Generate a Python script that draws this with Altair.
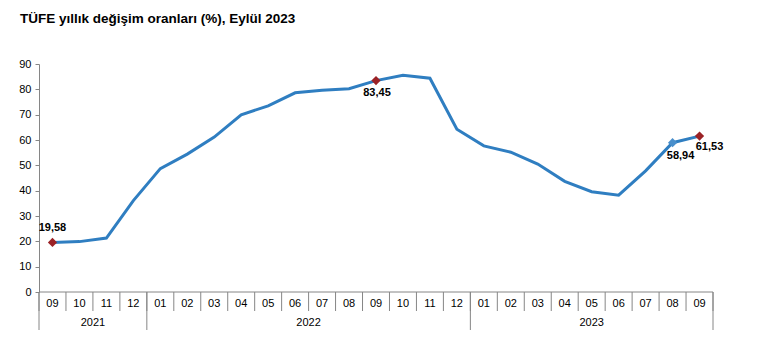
import altair as alt
import pandas as pd

months = ["09", "10", "11", "12",
          "01", "02", "03", "04", "05", "06", "07", "08", "09", "10", "11", "12",
          "01", "02", "03", "04", "05", "06", "07", "08", "09"]
years = ["2021"] * 4 + ["2022"] * 12 + ["2023"] * 9
values = [19.58, 19.89, 21.31, 36.08,
          48.69, 54.44, 61.14, 69.97, 73.50, 78.62, 79.60, 80.21, 83.45, 85.51, 84.39, 64.27,
          57.68, 55.18, 50.51, 43.68, 39.59, 38.21, 47.83, 58.94, 61.53]
y_ticks = [0, 10, 20, 30, 40, 50, 60, 70, 80, 90]
red_points = [0, 12, 24]
blue_points = [23]
label_text = {0: "19,58", 12: "83,45", 23: "58,94", 24: "61,53"}

n = len(months)
W, H = 674, 228
FONT = "Liberation Sans"

df = pd.DataFrame({
    "pos": [i + 0.5 for i in range(n)],
    "value": values,
    "month": months,
    "year": years,
    "idx": list(range(n)),
})
df["label"] = df["idx"].map(label_text).fillna("")

bounds = pd.DataFrame({"b": list(range(n + 1))})
year_bounds = [0] + [i for i in range(1, n) if years[i] != years[i - 1]] + [n]
ybounds = pd.DataFrame({"b": year_bounds})
ylab = pd.DataFrame({
    "year": [years[year_bounds[k]] for k in range(len(year_bounds) - 1)],
    "pos": [(year_bounds[k] + year_bounds[k + 1]) / 2 for k in range(len(year_bounds) - 1)],
})

xs = alt.Scale(domain=[0, n], nice=False, zero=False)
ys = alt.Scale(domain=[0, 90], nice=False)
yaxis = alt.Axis(values=y_ticks, title=None, grid=False,
                 domainColor="#868686", tickColor="#868686", tickSize=4,
                 labelFont=FONT, labelFontSize=11, labelColor="#000000",
                 labelPadding=4, labelOverlap=False)
X = alt.X("pos:Q", scale=xs, axis=None)
Y = alt.Y("value:Q", scale=ys, axis=yaxis)

base = alt.Chart(df)

line = base.mark_line(color="#2F7EC1", strokeWidth=3).encode(x=X, y=Y)

red = base.transform_filter(alt.FieldOneOfPredicate(field="idx", oneOf=red_points)).mark_point(
    shape="diamond", filled=True, size=85, color="#9B2226", opacity=1).encode(x=X, y=Y)
blue = base.transform_filter(alt.FieldOneOfPredicate(field="idx", oneOf=blue_points)).mark_point(
    shape="diamond", filled=True, size=85, color="#4A8FCB", opacity=1).encode(x=X, y=Y)

def lab(i, dx, dy):
    return base.transform_filter(alt.datum.idx == i).mark_text(
        font=FONT, fontSize=11, fontWeight="bold", color="#000000", dx=dx, dy=dy
    ).encode(x=X, y=Y, text="label:N")

labels = lab(0, 0, -14) + lab(12, 1, 12) + lab(23, 8, 13) + lab(24, 10, 11)

xaxis_line = alt.Chart(pd.DataFrame({"a": [0], "b": [n], "value": [0]})).mark_rule(
    color="#868686", strokeWidth=1).encode(
    x=alt.X("a:Q", scale=xs, axis=None), x2="b:Q", y=Y)

seps = alt.Chart(bounds).mark_rule(color="#868686", strokeWidth=1).encode(
    x=alt.X("b:Q", scale=xs, axis=None), y=alt.value(H), y2=alt.value(H + 19))
yseps = alt.Chart(ybounds).mark_rule(color="#868686", strokeWidth=1).encode(
    x=alt.X("b:Q", scale=xs, axis=None), y=alt.value(H), y2=alt.value(H + 38))

mtext = base.mark_text(font=FONT, fontSize=11, color="#000000", baseline="middle").encode(
    x=X, y=alt.value(H + 12), text="month:N")
ytext = alt.Chart(ylab).mark_text(font=FONT, fontSize=11, color="#000000", baseline="middle").encode(
    x=alt.X("pos:Q", scale=xs, axis=None), y=alt.value(H + 31), text="year:N")

chart = alt.layer(
    xaxis_line, seps, yseps, mtext, ytext, line, red, blue, labels
).properties(
    width=W, height=H,
    title=alt.TitleParams("TÜFE yıllık değişim oranları (%), Eylül 2023",
                          anchor="start", frame="group", font=FONT, fontSize=13.5,
                          fontWeight="bold", color="#000000", dx=-19, offset=33),
    autosize=alt.AutoSizeParams(type="none"),
    padding={"left": 39, "top": 64, "right": 46, "bottom": 57},
).configure_view(stroke=None)

chart.save("out.html", embed_options={"renderer": "svg", "actions": False})
